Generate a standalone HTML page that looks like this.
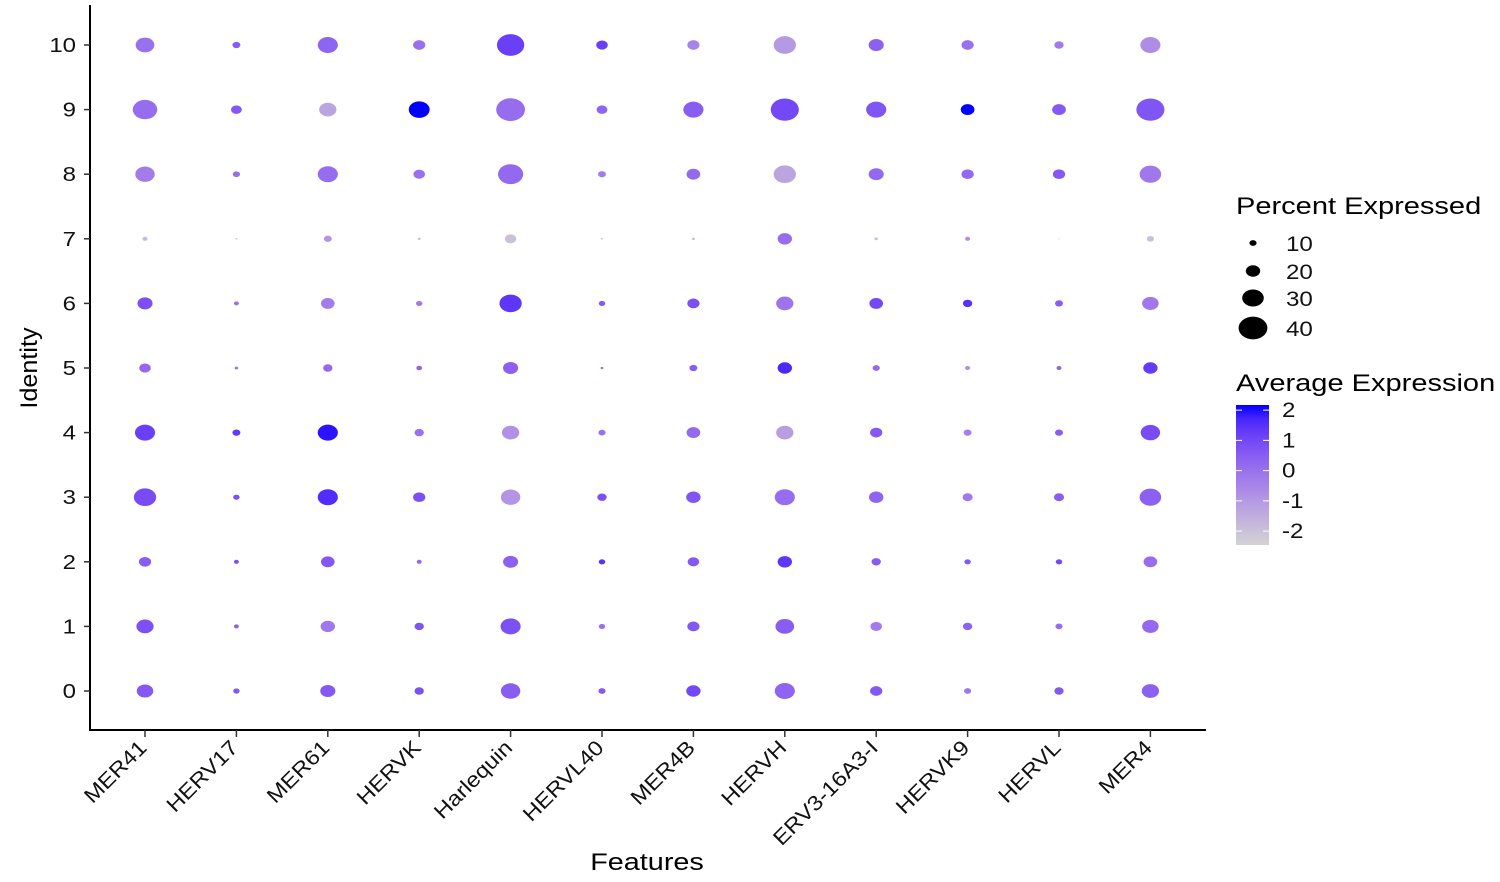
<!DOCTYPE html>
<html><head><meta charset="utf-8"><style>
html,body{margin:0;padding:0;background:#fff;}
svg{display:block;font-family:"Liberation Sans",Arial,sans-serif;}
</style></head><body>
<svg id="chart" width="1500" height="882" viewBox="0 0 1500 882"></svg>
<script>
const features = ["MER41","HERV17","MER61","HERVK","Harlequin","HERVL40","MER4B","HERVH","ERV3-16A3-I","HERVK9","HERVL","MER4"];
const identities = ["0","1","2","3","4","5","6","7","8","9","10"];
// percent expressed, rows = identity 0..10, cols = features
const pctExp = [
 [23,9,21,13,27,10,20,28,17,10,13,24],
 [24,7,20,13,28,9,17,26,16,13,10,23],
 [17,7,19,7,21,9,16,20,13,9,9,19],
 [31,9,28,17,27,13,20,28,20,14,14,30],
 [28,11,28,13,24,10,19,24,17,11,11,27],
 [16,5,13,8,21,4,11,20,10,7,7,20],
 [21,7,19,9,31,9,17,24,19,13,11,23],
 [7,3,11,4,16,3,4,20,5,7,2,10],
 [27,10,28,16,35,11,19,31,21,17,17,30],
 [34,15,24,29,40,15,28,39,28,19,19,39],
 [26,11,28,17,38,16,17,31,21,17,13,28]
];
// average expression (scaled)
const avgExp = [
 [0.6,0.6,0.6,0.8,0.5,0.6,1.0,0.3,0.6,-0.2,0.6,0.4],
 [0.8,0.4,-0.2,0.7,0.8,0.0,0.6,0.5,-0.3,0.4,0.1,0.2],
 [0.5,0.8,0.6,0.2,0.4,1.5,0.6,1.4,0.5,0.6,1.0,0.1],
 [0.9,0.8,1.6,0.8,-0.9,0.8,0.7,0.1,0.3,-0.2,0.5,0.4],
 [1.2,1.3,2.0,0.0,-0.8,0.0,0.2,-1.1,0.6,-0.4,0.5,0.9],
 [0.2,0.0,0.2,0.3,0.4,0.0,0.5,1.7,0.2,-0.7,0.3,1.3],
 [0.8,0.0,-0.3,-0.3,1.4,0.6,0.8,-0.1,1.0,1.5,0.5,-0.2],
 [-1.8,-2.0,-0.9,-2.0,-2.0,-2.0,-1.8,0.1,-2.0,-0.7,-2.0,-2.0],
 [-0.3,0.1,0.1,0.0,0.2,-0.3,0.2,-1.3,0.2,0.2,0.6,-0.2],
 [0.1,0.6,-1.3,2.2,0.1,0.3,0.5,1.0,0.7,2.2,0.6,0.7],
 [0.0,0.5,0.3,0.0,1.2,1.2,-0.5,-1.0,0.4,0.0,-0.3,-0.7]
];
const sizeBreaks = [10,20,30,40];
const colorTicks = [2,1,0,-1,-2];
const colorMin = -2.46, colorMax = 2.17;

const NS="http://www.w3.org/2000/svg";
const svg=document.getElementById('chart');
function mk(tag,attrs,parent){const e=document.createElementNS(NS,tag);for(const k in attrs)e.setAttribute(k,attrs[k]);(parent||svg).appendChild(e);return e;}
function txt(x,y,s,size,anchor,rot,sx,fill){
 const e=mk('text',{x:0,y:0,'font-size':size,'text-anchor':anchor,fill:fill||'#111',
  transform:`translate(${x} ${y}) rotate(${rot}) scale(${sx} 1)`});
 e.textContent=s;return e;}

const x0=145, xStep=91.4, yTop=45, yBot=691;
function xScale(i){return x0+i*xStep;}
function yScale(j){return yBot-(yBot-yTop)*j/(identities.length-1);}
function rx(p){return 0.36*p;}
function ry(p){return 0.285*p;}

function toLin(c){c/=255;return c<=0.04045?c/12.92:Math.pow((c+0.055)/1.055,2.4);}
function fromLin(c){c=c<=0.0031308?12.92*c:1.055*Math.pow(c,1/2.4)-0.055;return Math.round(Math.max(0,Math.min(1,c))*255);}
function rgb2lab(r,g,b){r=toLin(r);g=toLin(g);b=toLin(b);
 let X=(0.4124*r+0.3576*g+0.1805*b)/0.95047,Y=0.2126*r+0.7152*g+0.0722*b,Z=(0.0193*r+0.1192*g+0.9505*b)/1.08883;
 const f=t=>t>0.008856?Math.cbrt(t):7.787*t+16/116;X=f(X);Y=f(Y);Z=f(Z);
 return [116*Y-16,500*(X-Y),200*(Y-Z)];}
function lab2rgb(L,a,b){let Y=(L+16)/116,X=a/500+Y,Z=Y-b/200;
 const fi=t=>t*t*t>0.008856?t*t*t:(t-16/116)/7.787;X=fi(X)*0.95047;Y=fi(Y);Z=fi(Z)*1.08883;
 const r=3.2406*X-1.5372*Y-0.4986*Z,g=-0.9689*X+1.8758*Y+0.0415*Z,bb=0.0557*X-0.2040*Y+1.0570*Z;
 return [fromLin(r),fromLin(g),fromLin(bb)];}
const labLo=rgb2lab(211,211,211), labHi=rgb2lab(0,0,255);
function colorOf(v){let t=(v-colorMin)/(colorMax-colorMin);t=Math.max(0,Math.min(1,t));
 const c=lab2rgb(labLo[0]+(labHi[0]-labLo[0])*t,labLo[1]+(labHi[1]-labLo[1])*t,labLo[2]+(labHi[2]-labLo[2])*t);
 return `rgb(${c[0]},${c[1]},${c[2]})`;}

const ax=mk('line',{x1:90,y1:5,x2:90,y2:730.5,stroke:'#000','stroke-width':2});

const bx=mk('line',{x1:89,y1:730,x2:1206,y2:730,stroke:'#000','stroke-width':2});


identities.forEach((lab,j)=>{
 const y=yScale(j);
 const t=mk('line',{x1:84,y1:y,x2:90,y2:y,stroke:'#333','stroke-width':1.5});
 
 const tx=txt(76,y+7,lab,20,'end',0,1.2);
 
});
features.forEach((f,i)=>{
 const x=xScale(i);
 const t=mk('line',{x1:x,y1:730,x2:x,y2:737,stroke:'#333','stroke-width':1.5});
 
 const tx=txt(x+3,749,f,21,'end',-45,1.12);
 
});
const xt=txt(647,870,'Features',24,'middle',0,1.2,'#000');

const yt=txt(37,368,'Identity',24,'middle',-90,1.05,'#000');


pctExp.forEach((row,j)=>{row.forEach((p,i)=>{
 const d=mk('ellipse',{cx:xScale(i),cy:yScale(j),rx:rx(p),ry:ry(p),fill:colorOf(avgExp[j][i])});
 
 
});});

const lt=txt(1236,214,'Percent Expressed',24,'start',0,1.21,'#000');

const legY=[243,271,298,328];
sizeBreaks.forEach((b,k)=>{
 const e=mk('ellipse',{cx:1253,cy:legY[k],rx:rx(b),ry:ry(b),fill:'#000'});
 
 const t=txt(1286,legY[k]+8,String(b),21,'start',0,1.15);
 
});

const ct=txt(1236,391,'Average Expression',24,'start',0,1.21,'#000');

const defs=mk('defs',{});
const grad=mk('linearGradient',{id:'cg',x1:0,y1:1,x2:0,y2:0},defs);
for(let s=0;s<=10;s++){mk('stop',{offset:s/10,'stop-color':colorOf(colorMin+(colorMax-colorMin)*s/10)},grad);}
const barTop=405,barBot=545,barX=1236,barW=33;
const bar=mk('rect',{x:barX,y:barTop,width:barW,height:barBot-barTop,fill:'url(#cg)'});

function cy(v){return barBot-(v-colorMin)/(colorMax-colorMin)*(barBot-barTop);}
colorTicks.forEach(v=>{
 const y=cy(v);
 const l1=mk('line',{x1:barX,y1:y,x2:barX+6,y2:y,stroke:'#fff','stroke-width':1});
 
 const l2=mk('line',{x1:barX+barW-6,y1:y,x2:barX+barW,y2:y,stroke:'#fff','stroke-width':1});
 
 const t=txt(1282,y+7,v<0?'-'+Math.abs(v):String(v),21,'start',0,1.15);
 
});
</script>
</body></html>
